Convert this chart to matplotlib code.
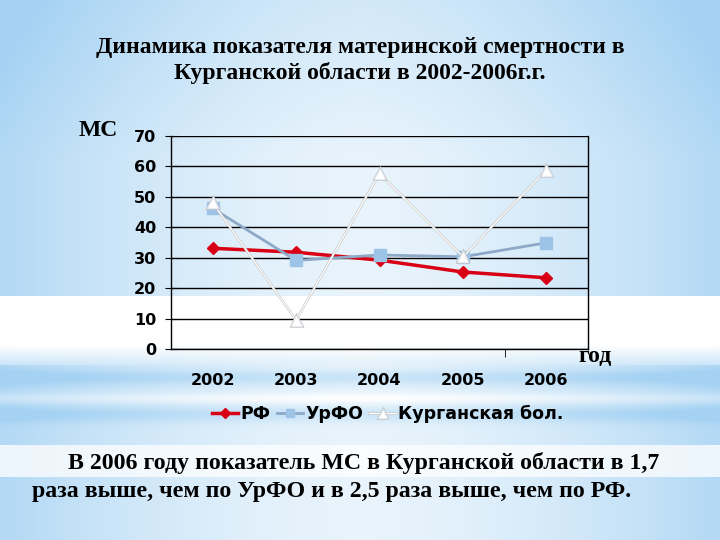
import numpy as np
import matplotlib.pyplot as plt
import matplotlib.patheffects as pe

years = ['2002', '2003', '2004', '2005', '2006']
rf = [33.1, 31.8, 29.2, 25.3, 23.4]
urfo = [46.2, 29.1, 30.9, 30.3, 34.9]
kurgan = [48.0, 9.5, 57.7, 30.3, 58.8]
y_ticks = [0, 10, 20, 30, 40, 50, 60, 70]

serif = ['Liberation Serif', 'DejaVu Serif']
sans = ['DejaVu Sans']


def make_background(w=720, h=540):
    # светло-голубой фон с белыми полосами
    yy, xx = np.mgrid[0:h, 0:w].astype(float)
    hx = np.abs(xx - w / 2) / (w / 2)
    f = 0.25 + 0.6 * hx ** 1.6 + 0.25 * np.clip((160 - yy) / 160, 0, 1)
    band = (yy >= 296) & (yy < 345)
    f[band] = 0.0
    fade = (yy >= 345) & (yy < 365)
    f[fade] = ((yy[fade] - 345) / 20) * (0.3 + 0.3 * hx[fade])
    f += 0.35 * np.exp(-((yy - 377) / 8) ** 2) * (yy >= 365)
    f -= 0.25 * np.exp(-((yy - 398) / 5) ** 2)
    f += 0.3 * np.exp(-((yy - 414) / 8) ** 2)
    band2 = (yy >= 445) & (yy < 477)
    f[band2] = 0.05 + 0.15 * hx[band2]
    f = np.clip(f, 0, 1)
    blue = np.array([165, 210, 243]) / 255.0
    white = np.array([1.0, 1.0, 1.0])
    img = white + (blue - white) * f[..., None]
    return img


fig = plt.figure(figsize=(7.2, 5.4), dpi=100)
bg = fig.add_axes([0, 0, 1, 1])
bg.imshow(make_background(), aspect='auto', extent=[0, 1, 0, 1], origin='upper')
bg.axis('off')

ax = fig.add_axes([171 / 720, 1 - 349 / 540, 417 / 720, 213 / 540])
ax.patch.set_alpha(0)
x = np.arange(len(years))

ax.plot(x, rf, color='#D90016', lw=2.5, marker='D', ms=6.5, mec='#D90016',
        label='РФ', zorder=3)
ax.plot(x, urfo, color='#8EA9C8', lw=2, marker='s', ms=8, mfc='#9DC3E6',
        mec='#9DC3E6', label='УрФО', zorder=3)
ax.plot(x, kurgan, color='white', lw=0.9, marker='^', ms=8, mfc='white',
        mec='#E6ECF2', mew=0.8, label='Курганская бол.', zorder=3,
        path_effects=[pe.Stroke(linewidth=1.8, foreground='#C4C4C4'), pe.Normal()])

ax.set_xlim(-0.5, 4.5)
ax.set_ylim(0, 70)
ax.set_yticks(y_ticks)
ax.yaxis.grid(True, color='black', lw=1)
ax.set_axisbelow(True)
for s in ax.spines.values():
    s.set_color('black')
    s.set_linewidth(1)
ax.spines['top'].set_visible(False)

ax.set_xticks(x)
ax.set_xticklabels(years)
ax.tick_params(axis='x', length=0, pad=17)
ax.set_xticks([3.5], minor=True)
ax.tick_params(axis='x', which='minor', length=6, direction='out', color='black')
ax.tick_params(axis='y', direction='inout', length=9, pad=6)
for lab in ax.get_xticklabels() + ax.get_yticklabels():
    lab.set_fontfamily(sans)
    lab.set_fontweight('bold')
    lab.set_fontsize(11.5)

leg = ax.legend(loc='upper center', bbox_to_anchor=(0.52, -0.19), ncol=3, frameon=False,
                prop={'family': sans, 'weight': 'bold', 'size': 12.5},
                handlelength=1.5, handletextpad=0.15, columnspacing=0.35, markerscale=0.8)

fig.text(0.5, 1 - 47 / 540, 'Динамика показателя материнской смертности в',
         ha='center', va='center', family=serif, weight='bold', fontsize=17)
fig.text(0.5, 1 - 73 / 540, 'Курганской области в 2002-2006г.г.',
         ha='center', va='center', family=serif, weight='bold', fontsize=17)
fig.text(98 / 720, 1 - 130 / 540, 'МС', ha='center', va='center',
         family=serif, weight='bold', fontsize=17)
fig.text(595 / 720, 1 - 357 / 540, 'год', ha='center', va='center',
         family=serif, weight='bold', fontsize=17)
fig.text(68 / 720, 1 - 463 / 540, 'В 2006 году показатель МС в Курганской области в 1,7',
         ha='left', va='center', family=serif, weight='bold', fontsize=17.2)
fig.text(32 / 720, 1 - 491 / 540, 'раза выше, чем по УрФО и в 2,5 раза выше, чем по РФ.',
         ha='left', va='center', family=serif, weight='bold', fontsize=17.2)

fig.savefig('out.png', dpi=100)
